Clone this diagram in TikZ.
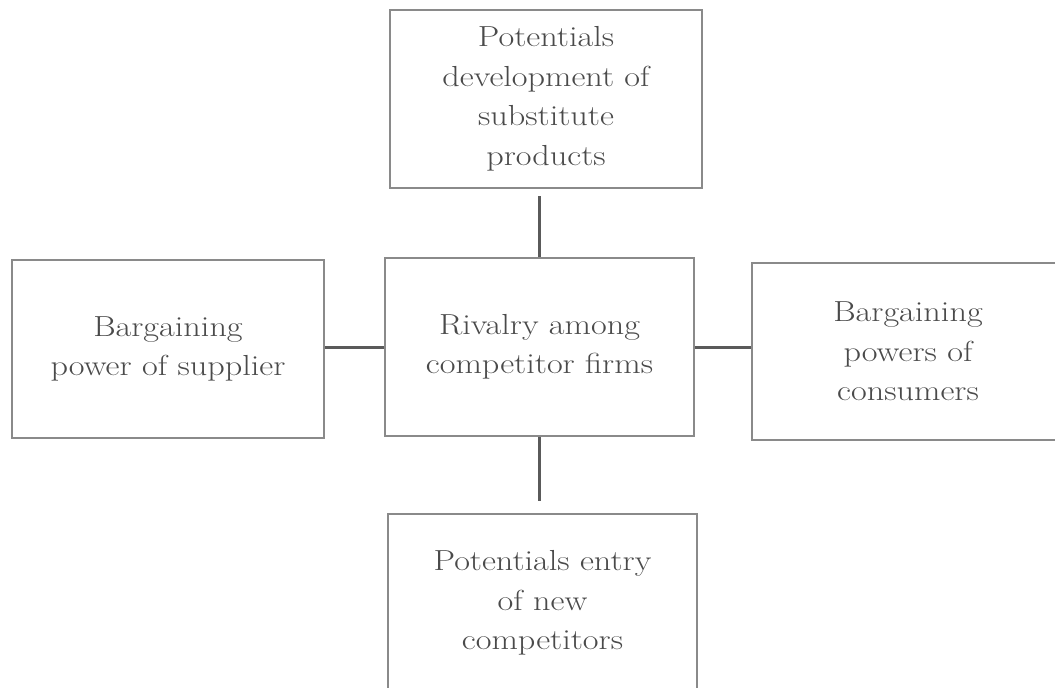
\documentclass[tikz,border=0pt]{standalone}
\usepackage{fontspec}
\newfontfamily\boxfont{Latin Modern Roman}[FakeStretch=1.18]
\begin{document}
\begin{tikzpicture}[x=1pt,y=-1pt,
  box/.style={draw=boxgray, line width=1.6pt, fill=white, align=center,
    text=textgray, font=\boxfont\fontsize{29}{39.5}\selectfont, inner sep=0pt},
  conn/.style={draw=conngray, line width=3pt}]
\definecolor{boxgray}{HTML}{8A8A8A}
\definecolor{conngray}{HTML}{5A5A5A}
\definecolor{textgray}{HTML}{4A4A4A}
\useasboundingbox (0,0) rectangle (1055,688);
\clip (0,0) rectangle (1055,688);
\node[box, minimum width=312pt, minimum height=178pt] (t) at (546,99)
  {Potentials\\development of\\substitute\\products};
\node[box, minimum width=312pt, minimum height=178pt] (l) at (168,349)
  {Bargaining\\power of supplier};
\node[box, minimum width=309pt, minimum height=178pt] (c) at (539.5,347)
  {Rivalry among\\competitor firms};
\node[box, minimum width=312pt, minimum height=177pt] (r) at (908,351.5)
  {Bargaining\\powers of\\consumers};
\node[box, minimum width=309pt, minimum height=178pt] (b) at (542.5,603)
  {Potentials entry\\of new\\competitors};
\draw[conn, shorten >=7pt] (c.north) -- (c.north |- t.south);
\draw[conn, shorten >=12pt] (c.south) -- (c.south |- b.north);
\draw[conn] (c.west) -- (c.west -| l.east);
\draw[conn] (c.east) -- (c.east -| r.west);
\end{tikzpicture}
\end{document}
